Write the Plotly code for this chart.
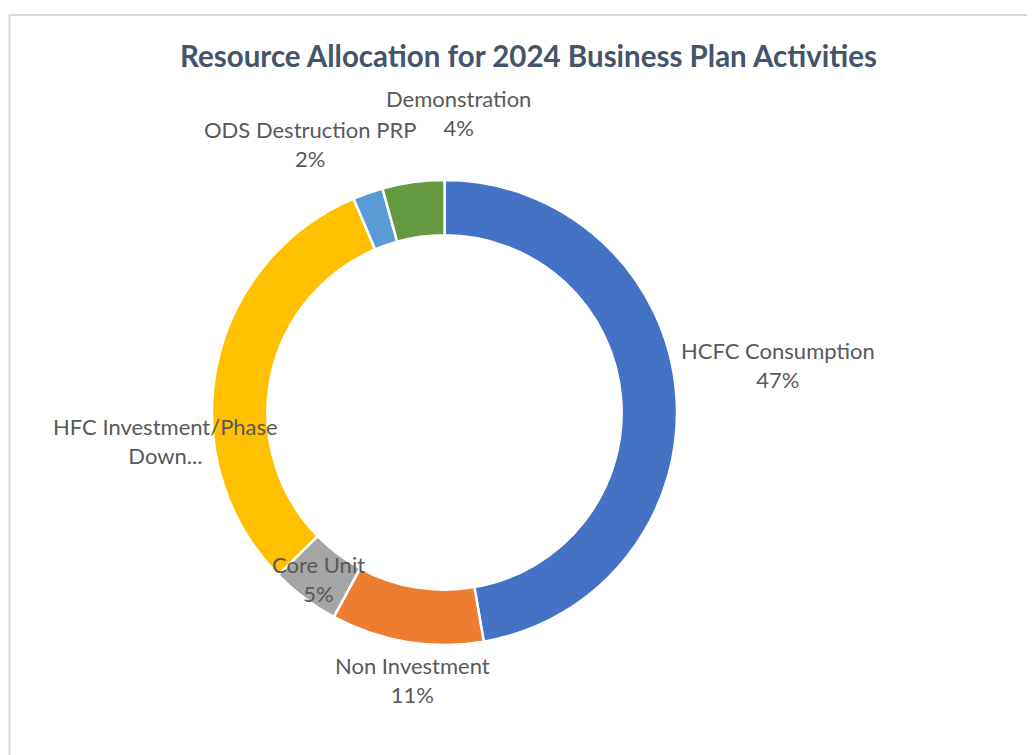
import plotly.graph_objects as go

# ---- data ----
categories = ["HCFC Consumption", "Non Investment", "Core Unit",
              "HFC Investment/Phase Down...", "ODS Destruction PRP", "Demonstration"]
values = [47.3, 10.6, 4.8, 30.9, 2.1, 4.3]
colors = ["#4472C4", "#ED7D31", "#A5A5A5", "#FFC000", "#5B9BD5", "#64993F"]
title_text = "Resource Allocation for 2024 Business Plan Activities"

W, H = 1035, 755
OFF = 8  # page body margin offset
cx, cy, R = 444.5 - OFF, 412.5 - OFF, 232.5

fig = go.Figure(go.Pie(
    labels=categories,
    values=values,
    sort=False,
    direction="clockwise",
    rotation=0,
    hole=0.762,
    textinfo="none",
    marker=dict(colors=colors, line=dict(color="white", width=2.5)),
    domain=dict(x=[(cx - R) / W, (cx + R) / W], y=[(H - cy - R) / H, (H - cy + R) / H]),
    showlegend=False,
))

# label placement (pixel centres of each label block), style only
label_pos = {
    "HCFC Consumption": (778, 365),
    "Non Investment": (412, 680),
    "Core Unit": (318, 579),
    "HFC Investment/Phase Down...": (165, 441),
    "ODS Destruction PRP": (310, 144),
    "Demonstration": (458, 113),
}
total = sum(values)
annotations = []
for name, v in zip(categories, values):
    px, py = label_pos[name]
    px, py = px - OFF, py - OFF
    if name.startswith("HFC"):
        txt = "HFC Investment/Phase<br>Down..."
    else:
        txt = f"{name}<br>{round(v / total * 100)}%"
    annotations.append(dict(
        x=px / W, y=1 - py / H, xref="paper", yref="paper",
        text=txt, showarrow=False, xanchor="center", yanchor="middle",
        align="center", font=dict(family="Lato", size=22, color="#595959"),
    ))

fig.update_layout(
    width=W, height=H,
    margin=dict(l=0, r=0, t=0, b=0),
    paper_bgcolor="white", plot_bgcolor="white",
    title=dict(text=f"<b>{title_text}</b>", x=(528.5 - OFF) / W, y=1 - (57 - OFF) / H,
               xanchor="center", yanchor="middle",
               font=dict(family="Lato", size=29.5, color="#44546A")),
    annotations=annotations,
    shapes=[dict(type="rect", xref="paper", yref="paper",
                 x0=(9.5 - OFF) / W, x1=1.05, y0=-0.05, y1=1 - (15 - OFF) / H,
                 line=dict(color="#D9D9D9", width=2), fillcolor="rgba(0,0,0,0)",
                 layer="below")],
)

fig.write_html("out.html")
